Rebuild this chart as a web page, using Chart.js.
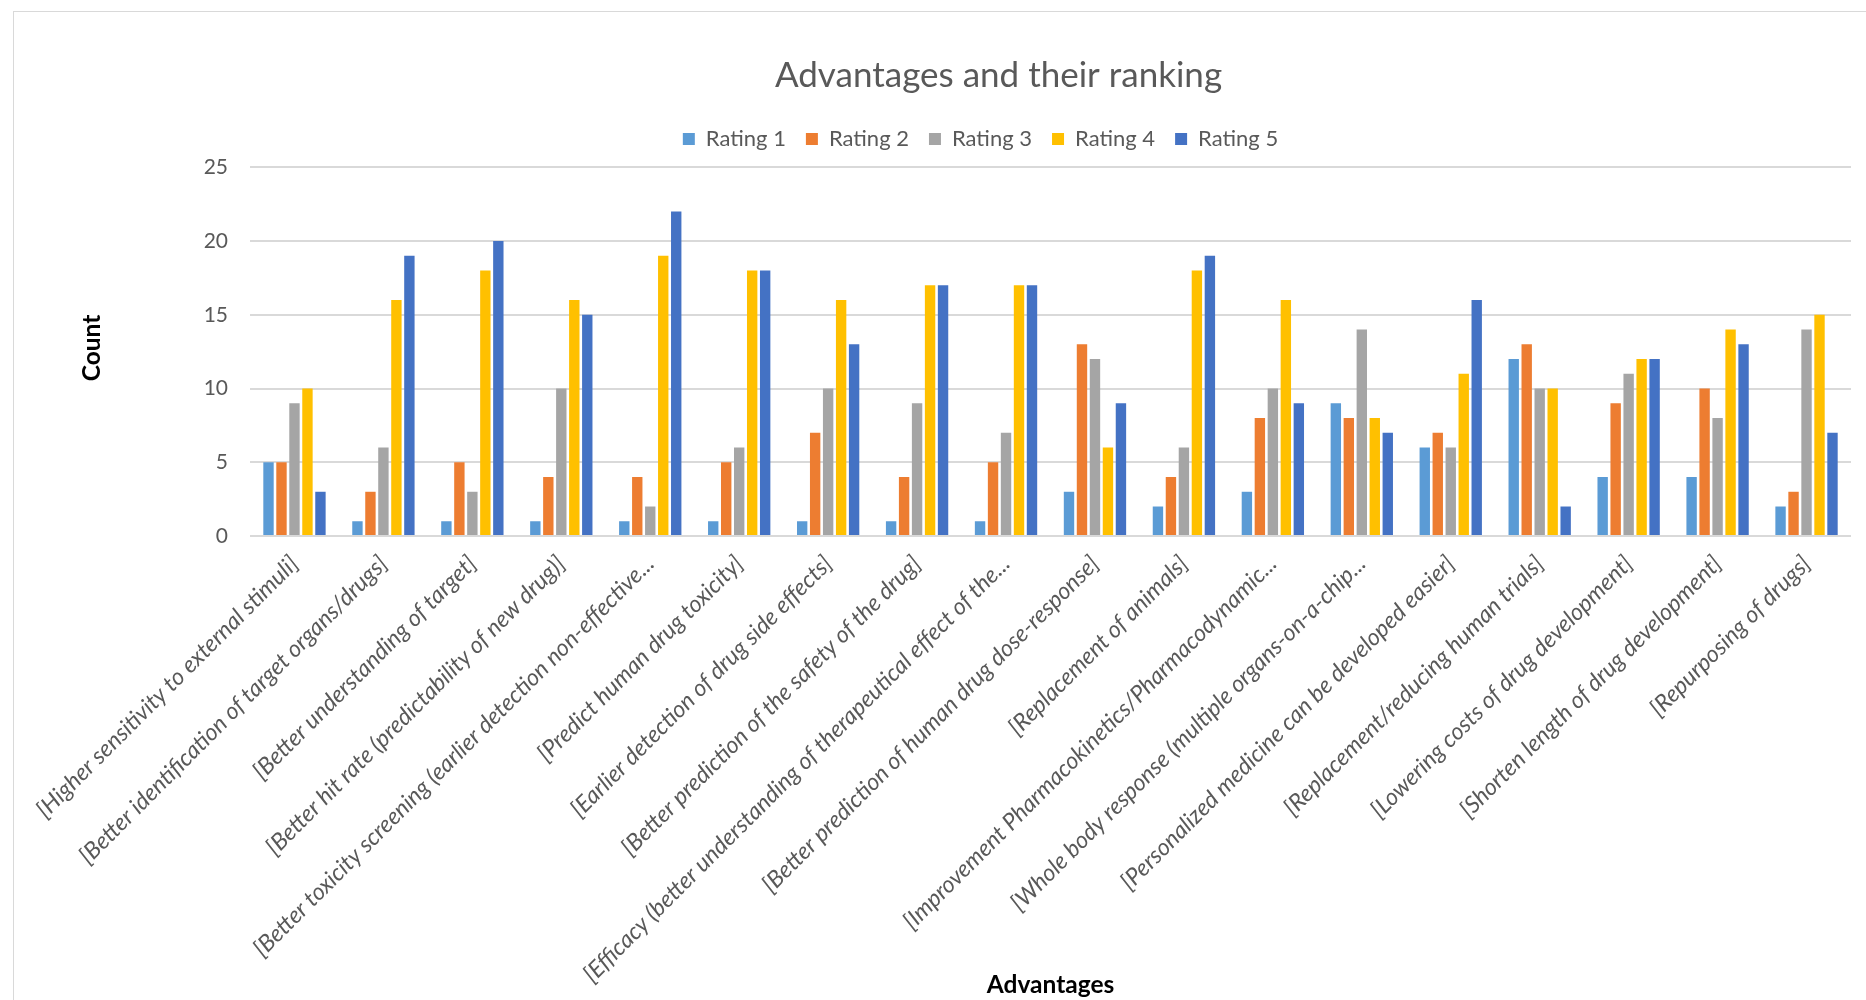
<!DOCTYPE html>
<html>
<head>
<meta charset="utf-8">
<title>Advantages and their ranking</title>
<script src="https://cdn.jsdelivr.net/npm/chart.js@4.4.1/dist/chart.umd.min.js"></script>
<style>
  html, body { margin: 0; padding: 0; background: #fff; }
  #wrap { position: relative; width: 1866px; height: 1000px; overflow: hidden; }
  #frame { position: absolute; left: 13px; top: 11px; width: 2000px; height: 1200px; border: 1.5px solid #d9d9d9; }
  canvas { position: absolute; left: 0; top: 0; }
</style>
</head>
<body>
<div id="wrap">
  <div id="frame"></div>
  <canvas id="advantages" width="1866" height="1000"></canvas>
</div>
<script>
// categories as they appear (Excel cut the long ones short)
const advantages = [
  '[Higher sensitivity to external stimuli]',
  '[Better identification of target organs/drugs]',
  '[Better understanding of target]',
  '[Better hit rate (predictability of new drug)]',
  '[Better toxicity screening (earlier detection non-effective...',
  '[Predict human drug toxicity]',
  '[Earlier detection of drug side effects]',
  '[Better prediction of the safety of the drug]',
  '[Efficacy (better understanding of therapeutical effect of the...',
  '[Better prediction of human drug dose-response]',
  '[Replacement of animals]',
  '[Improvement Pharmacokinetics/Pharmacodynamic...',
  '[Whole body response (multiple organs-on-a-chip...',
  '[Personalized medicine can be developed easier]',
  '[Replacement/reducing human trials]',
  '[Lowering costs of drug development]',
  '[Shorten length of drug development]',
  '[Repurposing of drugs]'
];

const rating1 = [5, 1, 1, 1, 1, 1, 1, 1, 1, 3, 2, 3, 9, 6, 12, 4, 4, 2];
const rating2 = [5, 3, 5, 4, 4, 5, 7, 4, 5, 13, 4, 8, 8, 7, 13, 9, 10, 3];
const rating3 = [9, 6, 3, 10, 2, 6, 10, 9, 7, 12, 6, 10, 14, 6, 10, 11, 8, 14];
const rating4 = [10, 16, 18, 16, 19, 18, 16, 17, 17, 6, 18, 16, 8, 11, 10, 12, 14, 15];
const rating5 = [3, 19, 20, 15, 22, 18, 13, 17, 17, 9, 19, 9, 7, 16, 2, 12, 13, 7];

const seriesNames = ['Rating 1', 'Rating 2', 'Rating 3', 'Rating 4', 'Rating 5'];
const colours = ['#5B9BD5', '#ED7D31', '#A5A5A5', '#FFC000', '#4472C4'];
const yTicks = [0, 5, 10, 15, 20, 25];

const grey = '#595959';
Chart.defaults.font.family = 'Lato, "Open Sans", sans-serif';
Chart.defaults.color = grey;

const datasets = [rating1, rating2, rating3, rating4, rating5].map((values, i) => ({
  label: seriesNames[i],
  data: values,
  backgroundColor: colours[i],
  borderWidth: 0,
  categoryPercentage: 0.73,
  barPercentage: 0.8
}));

// excel centres the title a little right of the legend
const nudgeTitle = {
  id: 'nudgeTitle',
  afterLayout(chart) {
    chart.titleBlock.left += 18;
    chart.titleBlock.right += 18;
  }
};

new Chart(document.getElementById('advantages'), {
  type: 'bar',
  data: { labels: advantages, datasets: datasets },
  plugins: [nudgeTitle],
  options: {
    responsive: false,
    animation: false,
    layout: { padding: { left: 110, right: 15, top: 0, bottom: 0 } },
    plugins: {
      title: {
        display: true,
        text: 'Advantages and their ranking',
        color: grey,
        font: { size: 35, weight: 'normal' },
        padding: { top: 55, bottom: 11 }
      },
      legend: {
        position: 'top',
        labels: {
          color: grey,
          font: { size: 22 },
          boxWidth: 12,
          boxHeight: 12,
          padding: 20
        }
      },
      tooltip: { enabled: false }
    },
    scales: {
      x: {
        grid: { display: false },
        border: { display: false },
        ticks: {
          autoSkip: false,
          minRotation: 45,
          maxRotation: 45,
          padding: 6,
          color: grey,
          font: { size: 23.3, style: 'italic' }
        },
        title: {
          display: true,
          text: 'Advantages',
          color: '#000',
          font: { size: 24.5, weight: 'bold' },
          padding: { top: 0, bottom: 0 }
        },
        afterFit: scale => { scale.height = 464; }
      },
      y: {
        min: 0,
        max: 25.5,
        afterBuildTicks: scale => { scale.ticks = yTicks.map(v => ({ value: v })); },
        grid: { color: '#d9d9d9', lineWidth: 2, drawTicks: false },
        border: { display: false },
        ticks: { padding: 22, color: grey, font: { size: 21 } },
        title: {
          display: true,
          text: 'Count',
          color: '#000',
          font: { size: 24.5, weight: 'bold' },
          padding: { top: -33, bottom: 0 }
        },
        afterFit: scale => { scale.width = 140; }
      }
    }
  }
});
</script>
</body>
</html>
